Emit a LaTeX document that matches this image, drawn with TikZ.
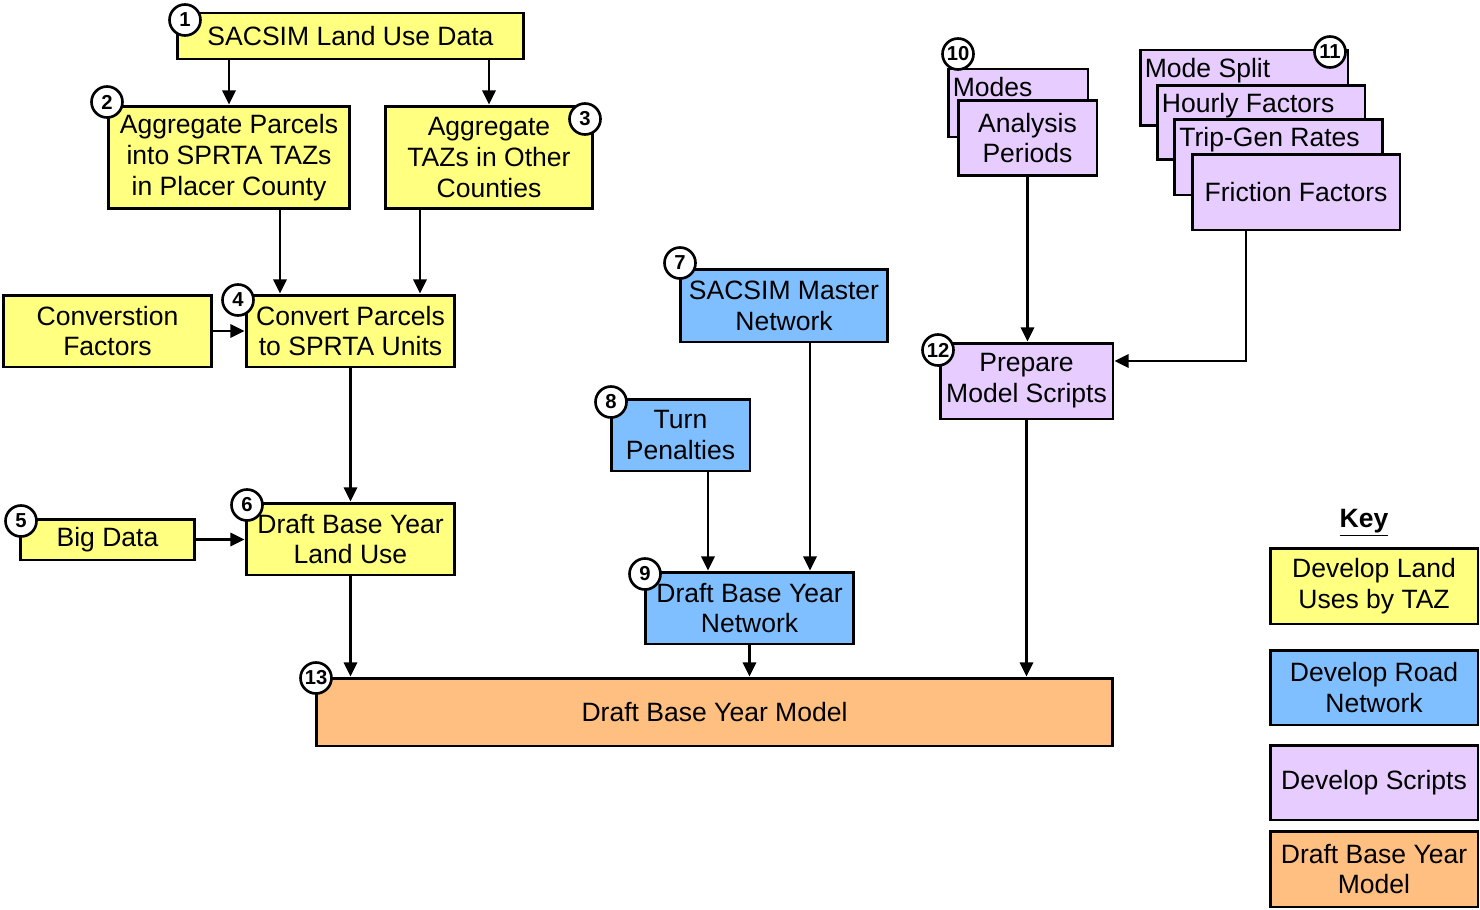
\documentclass[tikz,border=0pt]{standalone}
\usepackage{fontspec}
\setmainfont{Liberation Sans}
\usetikzlibrary{arrows.meta}
\definecolor{luyellow}{HTML}{FFFF80}
\definecolor{netblue}{HTML}{80BFFF}
\definecolor{scrlilac}{HTML}{E6CCFF}
\definecolor{modorange}{HTML}{FFBF80}
\newcommand{\boxfont}{\fontsize{15.1}{17.6}\selectfont}
\tikzstyle{landuse} = [
    rectangle, draw=black, line width=1.7pt,
    inner sep=1pt, align=center, font=\boxfont,
    fill=luyellow
]
\tikzstyle{network} = [
    rectangle, draw=black, line width=1.7pt,
    inner sep=1pt, align=center, font=\boxfont,
    fill=netblue
]
\tikzstyle{script} = [
    rectangle, draw=black, line width=1.7pt,
    inner sep=1pt, align=center, font=\boxfont,
    fill=scrlilac
]
\tikzstyle{model} = [
    rectangle, draw=black, line width=1.7pt,
    inner sep=1pt, align=center, font=\boxfont,
    fill=modorange
]
\tikzstyle{stacktext} = [anchor=base west, inner sep=0pt, font=\boxfont]
\tikzstyle{stepno} = [
    circle, draw=black, line width=1.5pt, fill=white,
    minimum size=0.62cm, inner sep=0pt,
    font=\bfseries\fontsize{11.5}{11.5}\selectfont
]
\tikzstyle{arrow} = [line width=1.3pt, -{Triangle[length=8pt,width=7.5pt]}]

\begin{document}
\begin{tikzpicture}[x=0.02cm, y=-0.02cm]
    \useasboundingbox (0,0) rectangle (1480,909);
    % Land use blocks
    \node (lu1) [landuse, minimum width=6.94cm, minimum height=0.92cm] at (350.5,36) {SACSIM Land Use Data};
    \node (lu2) [landuse, minimum width=4.84cm, minimum height=2.06cm] at (229,157.5) {Aggregate Parcels\\into SPRTA TAZs\\in Placer County};
    \node (lu3) [landuse, minimum width=4.16cm, minimum height=2.06cm] at (489,157.5) {Aggregate\\TAZs in Other\\Counties};
    \node (conv) [landuse, minimum width=4.18cm, minimum height=1.44cm] at (107.5,331) {Converstion\\Factors};
    \node (lu4) [landuse, minimum width=4.18cm, minimum height=1.44cm] at (350.5,331) {Convert Parcels\\to SPRTA Units};
    \node (big) [landuse, minimum width=3.5cm, minimum height=0.82cm] at (107.5,539.5) {Big Data};
    \node (lu6) [landuse, minimum width=4.18cm, minimum height=1.44cm] at (350.5,539) {Draft Base Year\\Land Use};

    % Network blocks
    \node (n7) [network, minimum width=4.16cm, minimum height=1.46cm] at (784,305.5) {SACSIM Master\\Network};
    \node (n8) [network, minimum width=2.78cm, minimum height=1.44cm] at (680.5,435) {Turn\\Penalties};
    \node (n9) [network, minimum width=4.18cm, minimum height=1.44cm] at (749.5,608) {Draft Base Year\\Network};

    % Script blocks
    \node (s10a) [script, minimum width=2.8cm, minimum height=1.36cm] at (1018,103) {};
    \node (t10a) [stacktext] at ([shift={(6,29)}]s10a.north west) {Modes};
    \node (s10b) [script, minimum width=2.78cm, minimum height=1.52cm] at (1027.5,138) {Analysis\\Periods};
    \node (s11a) [script, minimum width=4.16cm, minimum height=1.52cm] at (1244,88) {};
    \node (t11a) [stacktext] at ([shift={(6,29)}]s11a.north west) {Mode Split};
    \node (s11b) [script, minimum width=4.16cm, minimum height=1.5cm] at (1261,122.5) {};
    \node (t11b) [stacktext] at ([shift={(6,29)}]s11b.north west) {Hourly Factors};
    \node (s11c) [script, minimum width=4.16cm, minimum height=1.52cm] at (1278.5,157) {};
    \node (t11c) [stacktext] at ([shift={(6,29)}]s11c.north west) {Trip-Gen Rates};
    \node (s11d) [script, minimum width=4.16cm, minimum height=1.52cm] at (1296,192) {Friction Factors};
    \node (s12) [script, minimum width=3.46cm, minimum height=1.52cm] at (1026.5,381) {Prepare\\Model Scripts};

    % Model block
    \node (m13) [model, minimum width=15.94cm, minimum height=1.36cm] at (714.5,712) {Draft Base Year Model};

    % Draw arrows
    \draw [arrow] (lu1.south -| lu2.north) -- (lu2.north);
    \draw [arrow] (lu1.south -| lu3.north) -- (lu3.north);
    \draw [arrow] (280,0 |- lu2.south) -- (280,0 |- lu4.north);
    \draw [arrow] (420,0 |- lu3.south) -- (420,0 |- lu4.north);
    \draw [arrow] (conv.east) -- (lu4.west);
    \draw [arrow] (lu4.south) -- (lu6.north);
    \draw [arrow] (big.east) -- (big.east -| lu6.west);
    \draw [arrow] (810,0 |- n7.south) -- (810,0 |- n9.north);
    \draw [arrow] (708,0 |- n8.south) -- (708,0 |- n9.north);
    \draw [arrow] (s10b.south) -- (s10b.south |- s12.north);
    \draw [arrow] (1246,0 |- s11d.south) |- (s12.east |- 0,361);
    \draw [arrow] (lu6.south) -- (lu6.south |- m13.north);
    \draw [arrow] (n9.south) -- (n9.south |- m13.north);
    \draw [arrow] (s12.south) -- (s12.south |- m13.north);

    % Step numbers
    \node (c1) [stepno] at (185,20) {1};
    \node (c2) [stepno] at (107,102) {2};
    \node (c3) [stepno] at (585,119) {3};
    \node (c4) [stepno] at (238,300) {4};
    \node (c5) [stepno] at (21,521) {5};
    \node (c6) [stepno] at (247,505) {6};
    \node (c7) [stepno] at (680,263) {7};
    \node (c8) [stepno] at (611,402) {8};
    \node (c9) [stepno] at (645,574) {9};
    \node (c10) [stepno] at (958,54) {10};
    \node (c11) [stepno] at (1330,52) {11};
    \node (c12) [stepno] at (938,350) {12};
    \node (c13) [stepno] at (316,678) {13};

    % Key
    \node (keytitle) [font=\boxfont\bfseries] at (1364,523) {\underline{Key}};
    \node (k1) [landuse, minimum width=4.16cm, minimum height=1.52cm] at (1374,586) {Develop Land\\Uses by TAZ};
    \node (k2) [network, minimum width=4.16cm, minimum height=1.5cm] at (1374,687.5) {Develop Road\\Network};
    \node (k3) [script, minimum width=4.16cm, minimum height=1.5cm] at (1374,782.5) {Develop Scripts};
    \node (k4) [model, minimum width=4.16cm, minimum height=1.52cm] at (1374,869) {Draft Base Year\\Model};
\end{tikzpicture}
\end{document}
